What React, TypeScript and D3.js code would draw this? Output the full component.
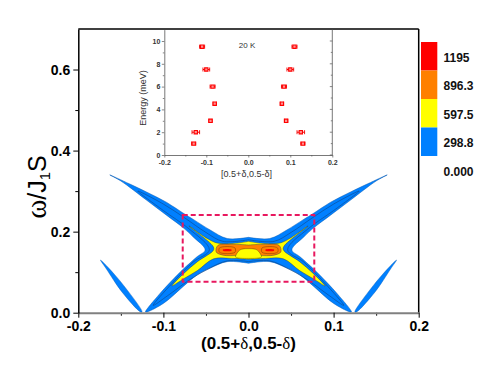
import React, { useEffect, useRef } from 'react'
import * as d3 from 'd3'

type Pt = [number, number]

// main panel ticks
const xTicks = [-0.2, -0.1, 0, 0.1, 0.2]
const xTickLabels = ['-0.2', '-0.1', '0.0', '0.1', '0.2']
const xMinor = [-0.15, -0.05, 0.05, 0.15]
const yTicks = [0, 0.2, 0.4, 0.6]
const yTickLabels = ['0.0', '0.2', '0.4', '0.6']
const yMinor = [0.1, 0.3, 0.5]

// legend
const levelLabels = ['1195', '896.3', '597.5', '298.8', '0.000']
const levelColors = ['#ff0000', '#ff8000', '#ffff00', '#0080ff']

// contour outlines, right half read as [delta, omega], mirrored for the left
const blueHalf: Pt[] = [[0, .186], [.025, .183], [.045, .204], [.064, .229], [.077, .246], [.096, .272], [.12, .298], [.14, .318], [.163, .34], [.15, .325], [.12, .278], [.096, .24], [.077, .21], [.065, .187], [.051, .155], [.0605, .138], [.0754, .11], [.092, .075], [.105, .045], [.121, .002], [.119, .002], [.0993, .024], [.076, .066], [.0605, .093], [.045, .11], [.025, .126], [0, .122]]
const innerHalf: Pt[] = [[0, .18], [.03, .176], [.05, .198], [.075, .234], [.1, .268], [.13, .3], [.1, .252], [.07, .207], [.046, .155], [.065, .125], [.09, .072], [.112, .018], [.095, .042], [.07, .08], [.05, .105], [.025, .128], [0, .126]]
const yellowHalf: Pt[] = [[0, .176], [.037, .172], [.07, .214], [.042, .165], [.041, .155], [.06, .126], [.076, .097], [.09, .066], [.076, .084], [.06, .104], [.041, .133], [.02, .134], [0, .132]]
const orangeHalf: Pt[] = [[0, .167], [.02, .169], [.036, .166], [.038, .15], [.03, .142], [.012, .141], [0, .141]]
const holeHalf: Pt[] = [[0, .158], [.009, .156], [.014, .145], [.015, .137], [0, .134]]
// separate arms that rise from the floor at about 0.125
const outerArm: Pt[] = [[.125, .002], [.147, .068], [.166, .114], [.174, .13], [.167, .108], [.149, .052], [.127, .002]]
const redSpot: Pt[] = [[.02, .156], [.03, .156], [.03, .153], [.02, .153]]
const spotLine: Pt[] = [[.016, .16], [.034, .16], [.034, .149], [.016, .149]]

// dashed zoom box
const boxDelta = [-0.0773, 0.0773]
const boxOmega = [0.0765, 0.241]

// inset: dispersion points at 20 K
const energies = [9.5, 7.5, 6, 4.5, 3, 2, 1]
const leftDelta = [-0.11, -0.1, -0.085, -0.08, -0.09, -0.125, -0.13]
const rightDelta = [0.11, 0.1, 0.085, 0.08, 0.09, 0.125, 0.13]
const deltaErr = [0.006, 0.008, 0.006, 0.004, 0.004, 0.009, 0.005]
const insetXTicks = [-0.2, -0.1, 0, 0.1, 0.2]
const insetXLabels = ['-0.2', '-0.1', '0.0', '0.1', '0.2']
const insetYTicks = [0, 2, 4, 6, 8, 10]
const insetYMinor = [1, 3, 5, 7, 9]
const insetXMinor = [-0.15, -0.05, 0.05, 0.15]

const sans = '"Liberation Sans", Arial, sans-serif'
const serif = '"Liberation Serif", "DejaVu Serif", serif'

const mirrored = (half: Pt[]): Pt[] => [...half, ...half.slice().reverse().map(([d, w]) => [-d, w] as Pt)]
const flipped = (pts: Pt[]): Pt[] => pts.map(([d, w]) => [-d, w] as Pt)

export default function App() {
  const ref = useRef<SVGSVGElement>(null)

  useEffect(() => {
    const svg = d3.select(ref.current)
    svg.selectAll('*').remove()

    const x = d3.scaleLinear().domain([-0.2, 0.2]).range([78.3, 418.7])
    const y = d3.scaleLinear().domain([0, 0.7]).range([312.7, 29])

    const shape = d3.line<Pt>().x(d => x(d[0])).y(d => y(d[1])).curve(d3.curveCatmullRomClosed.alpha(0.5))
    const poly = (pts: Pt[], fill: string, stroke = '#1a2a4a', sw = 0.4) =>
      svg.append('path').attr('d', shape(pts)).attr('fill', fill).attr('stroke', stroke).attr('stroke-width', sw)

    // filled contours, lowest level first
    poly(mirrored(blueHalf), levelColors[3], '#0a5ab0', 0.5)
    poly(outerArm, levelColors[3], '#0a5ab0', 0.4)
    poly(flipped(outerArm), levelColors[3], '#0a5ab0', 0.4)
    poly(mirrored(innerHalf), 'none', '#103a70', 0.5)
    poly(mirrored(yellowHalf), levelColors[2])
    poly(mirrored(orangeHalf), levelColors[1])
    poly(mirrored(holeHalf), levelColors[2], '#443300')
    ;[spotLine, flipped(spotLine)].forEach(p => poly(p, 'none', '#552200'))
    ;[redSpot, flipped(redSpot)].forEach(p => poly(p, levelColors[0], 'none'))

    // dashed box
    svg.append('rect')
      .attr('x', x(boxDelta[0])).attr('y', y(boxOmega[1]))
      .attr('width', x(boxDelta[1]) - x(boxDelta[0]))
      .attr('height', y(boxOmega[0]) - y(boxOmega[1]))
      .attr('fill', 'none').attr('stroke', '#e8185f').attr('stroke-width', 2).attr('stroke-dasharray', '5,3')

    // main frame
    svg.append('line').attr('x1', x(-0.2)).attr('x2', x(0.2)).attr('y1', y(0.7)).attr('y2', y(0.7)).attr('stroke', '#000').attr('stroke-width', 1.5)
    svg.append('line').attr('x1', x(0.2)).attr('x2', x(0.2)).attr('y1', y(0.7)).attr('y2', y(0)).attr('stroke', '#000').attr('stroke-width', 1.5)

    const styleAxis = (g: any, color: string, size: number, weight: string | number) => {
      g.select('.domain').attr('stroke', color).attr('stroke-width', 1.5)
      g.selectAll('.tick line').attr('stroke', '#000').attr('stroke-width', 1)
      g.selectAll('text').attr('fill', '#000').attr('font-family', sans).attr('font-size', size).attr('font-weight', weight)
    }

    const xG = svg.append('g').attr('transform', `translate(0,${y(0)})`)
    xG.call(d3.axisBottom(x).tickValues(xMinor).tickSize(3).tickFormat(() => ''))
    xG.call(g => g.selectAll('.tick line').attr('stroke', '#000'))
    xG.select('.domain').remove()
    const xMain = svg.append('g').attr('transform', `translate(0,${y(0)})`)
    xMain.call(d3.axisBottom(x).tickValues(xTicks).tickSize(5).tickPadding(3).tickSizeOuter(0).tickFormat((_, i) => xTickLabels[i]))
    styleAxis(xMain, '#808080', 14, 'bold')
    xMain.select('.domain').attr('stroke-width', 2)

    const yG = svg.append('g').attr('transform', `translate(${x(-0.2)},0)`)
    yG.call(d3.axisLeft(y).tickValues(yMinor).tickSize(3).tickFormat(() => ''))
    yG.call(g => g.selectAll('.tick line').attr('stroke', '#000'))
    yG.select('.domain').remove()
    const yMain = svg.append('g').attr('transform', `translate(${x(-0.2)},0)`)
    yMain.call(d3.axisLeft(y).tickValues(yTicks).tickSize(5).tickPadding(3).tickSizeOuter(0).tickFormat((_, i) => yTickLabels[i]))
    styleAxis(yMain, '#000', 14, 'bold')

    // axis titles
    const xTitle = svg.append('text').attr('x', 248.5).attr('y', 349).attr('text-anchor', 'middle')
      .attr('font-family', sans).attr('font-weight', 'bold').attr('font-size', 17).attr('fill', '#000')
    xTitle.append('tspan').text('(0.5+')
    xTitle.append('tspan').attr('font-family', serif).attr('font-weight', 'normal').text('δ')
    xTitle.append('tspan').text(',0.5-')
    xTitle.append('tspan').attr('font-family', serif).attr('font-weight', 'normal').text('δ')
    xTitle.append('tspan').text(')')

    const yTitle = svg.append('text').attr('transform', 'translate(46,187) rotate(-90)').attr('text-anchor', 'middle')
      .attr('font-family', sans).attr('font-size', 25).attr('fill', '#000')
    yTitle.append('tspan').attr('font-family', serif).attr('font-size', 29).text('ω')
    yTitle.append('tspan').text('/J')
    yTitle.append('tspan').attr('font-size', 15).attr('dy', 4).text('1')
    yTitle.append('tspan').attr('dy', -4).text('S')

    // legend
    const legendY = d3.scaleBand<number>().domain(d3.range(levelColors.length)).range([42, 156])
    svg.append('g').selectAll('rect').data(levelColors).join('rect')
      .attr('x', 421).attr('width', 16.3)
      .attr('y', (_, i) => legendY(i) as number).attr('height', legendY.bandwidth())
      .attr('fill', d => d)
    svg.append('g').selectAll('text').data(levelLabels).join('text')
      .attr('x', 443.5)
      .attr('y', (_, i) => (legendY(0) as number) + legendY.step() * i + 19.5)
      .attr('font-family', sans).attr('font-weight', 'bold').attr('font-size', 12).attr('fill', '#111')
      .text(d => d)

    // inset
    const ix = d3.scaleLinear().domain([-0.2, 0.2]).range([164.3, 332.3])
    const iy = d3.scaleLinear().domain([0, 11]).range([155, 29.6])
    const inset = svg.append('g')
    const grey = '#555'
    inset.append('line').attr('x1', ix(0.2)).attr('x2', ix(0.2)).attr('y1', iy(11)).attr('y2', iy(0)).attr('stroke', grey).attr('stroke-width', 0.8)
    // inward ticks on the right edge
    inset.append('g').selectAll('line').data([...insetYTicks, ...insetYMinor]).join('line')
      .attr('x1', ix(0.2)).attr('x2', d => ix(0.2) - (d % 2 === 0 ? 2.5 : 1.5))
      .attr('y1', d => iy(d)).attr('y2', d => iy(d)).attr('stroke', grey).attr('stroke-width', 0.7)

    const styleInset = (g: any) => {
      g.select('.domain').attr('stroke', grey).attr('stroke-width', 0.8)
      g.selectAll('.tick line').attr('stroke', grey).attr('stroke-width', 0.7)
      g.selectAll('text').attr('fill', '#333').attr('font-family', sans).attr('font-size', 7).attr('font-weight', 'bold')
    }
    const ixMinor = inset.append('g').attr('transform', `translate(0,${iy(0)})`)
    ixMinor.call(d3.axisBottom(ix).tickValues(insetXMinor).tickSize(1.5).tickFormat(() => ''))
    ixMinor.select('.domain').remove()
    ixMinor.selectAll('.tick line').attr('stroke', grey).attr('stroke-width', 0.7)
    const ixAxis = inset.append('g').attr('transform', `translate(0,${iy(0)})`)
    ixAxis.call(d3.axisBottom(ix).tickValues(insetXTicks).tickSize(2.5).tickPadding(2.5).tickSizeOuter(0).tickFormat((_, i) => insetXLabels[i]))
    styleInset(ixAxis)
    const iyMinor = inset.append('g').attr('transform', `translate(${ix(-0.2)},0)`)
    iyMinor.call(d3.axisLeft(iy).tickValues(insetYMinor).tickSize(1.5).tickFormat(() => ''))
    iyMinor.select('.domain').remove()
    iyMinor.selectAll('.tick line').attr('stroke', grey).attr('stroke-width', 0.7)
    const iyAxis = inset.append('g').attr('transform', `translate(${ix(-0.2)},0)`)
    iyAxis.call(d3.axisLeft(iy).tickValues(insetYTicks).tickSize(2.5).tickPadding(1.5).tickSizeOuter(0).tickFormat(d => String(d)))
    styleInset(iyAxis)

    const insetText = (txt: string, tx: number, ty: number, rot = 0, size = 9) =>
      inset.append('text').attr('transform', `translate(${tx},${ty}) rotate(${rot})`).attr('text-anchor', 'middle')
        .attr('font-family', sans).attr('font-size', size).attr('fill', '#333').text(txt)
    insetText('Energy (meV)', 146, 98, -90)
    insetText('[0.5+δ,0.5-δ]', 246.5, 177)
    insetText('20 K', 247, 48, 0, 8)

    // points with horizontal error bars
    const marker = d3.symbol().type(d3.symbolSquare).size(11)
    ;[leftDelta, rightDelta].forEach(series => {
      const g = inset.append('g')
      energies.forEach((e, i) => {
        const px = ix(series[i])
        const py = iy(e)
        const lo = ix(series[i] - deltaErr[i])
        const hi = ix(series[i] + deltaErr[i])
        g.append('line').attr('x1', lo).attr('x2', hi).attr('y1', py).attr('y2', py).attr('stroke', '#f00000').attr('stroke-width', 1)
        ;[lo, hi].forEach(c => g.append('line').attr('x1', c).attr('x2', c).attr('y1', py - 2).attr('y2', py + 2).attr('stroke', '#f00000').attr('stroke-width', 0.9))
        g.append('path').attr('d', marker()).attr('transform', `translate(${px},${py})`)
          .attr('fill', '#ff9090').attr('stroke', '#ff0000').attr('stroke-width', 1.1)
      })
    })
  }, [])

  return <svg ref={ref} width={500} height={375} style={{ position: 'absolute', left: 0, top: 0, background: '#fff' }} />
}
